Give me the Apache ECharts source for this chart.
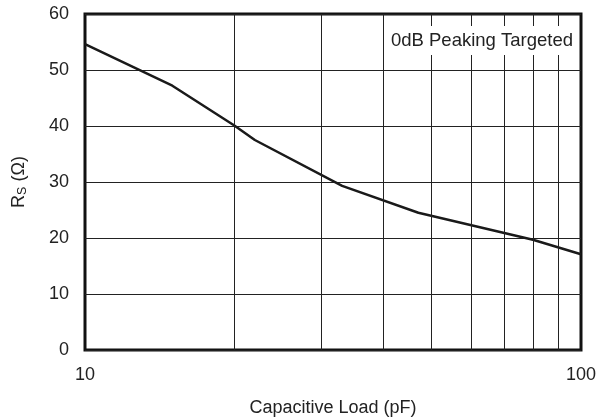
<!DOCTYPE html>
<html>
<head>
<meta charset="utf-8">
<script src="https://cdn.jsdelivr.net/npm/echarts@6/dist/echarts.min.js"></script>
<style>html,body{margin:0;padding:0;background:#fff}#c{width:597px;height:417px}</style>
</head>
<body>
<div id="c"></div>
<script>
// Data
const capLoad = [10, 15, 20, 22, 33, 47, 80, 100];          // pF
const rsValues = [54.6, 47.2, 40.1, 37.5, 29.3, 24.5, 19.7, 17.1]; // ohms
const minorGrid = [20, 30, 40, 50, 60, 70, 80, 90];
const yTicks = [0, 10, 20, 30, 40, 50, 60];
const annotation = '0dB Peaking Targeted';

const FONT = '"Liberation Sans", Arial, Helvetica, sans-serif';
const FS = 18;
const chart = echarts.init(document.getElementById('c'), null, {renderer: 'canvas'});
chart.setOption({
  animation: false,
  backgroundColor: '#fff',
  textStyle: {fontFamily: FONT},
  title: {
    text: annotation,
    right: 21,
    top: 26,
    padding: [5, 3, 5, 3],
    backgroundColor: '#fff',
    textStyle: {fontFamily: FONT, fontSize: 18.5, fontWeight: 'normal', color: '#222'}
  },
  grid: {
    left: 85, right: 16, top: 14, bottom: 67,
    outerBoundsMode: 'none',
    containLabel: false,
    show: true, borderColor: '#111', borderWidth: 3, backgroundColor: 'transparent'
  },
  xAxis: {
    type: 'log', logBase: 10, min: 10, max: 100,
    axisLine: {show: false}, axisTick: {show: false},
    splitLine: {show: false},
    axisLabel: {fontSize: FS, color: '#222', margin: 16, fontFamily: FONT},
    name: 'Capacitive Load (pF)', nameLocation: 'middle', nameGap: 49,
    nameTextStyle: {fontSize: FS, color: '#222', fontFamily: FONT}
  },
  yAxis: {
    type: 'value', min: yTicks[0], max: yTicks[yTicks.length - 1], interval: 10,
    axisLine: {show: false}, axisTick: {show: false},
    splitLine: {show: true, lineStyle: {color: '#222', width: 1}},
    axisLabel: {fontSize: FS, color: '#222', margin: 16, fontFamily: FONT},
    name: '{r|R}{s|S}{r| (Ω)}', nameLocation: 'middle', nameGap: 56, nameRotate: 90,
    nameTextStyle: {
      rich: {
        r: {fontSize: FS, color: '#222', fontFamily: FONT},
        s: {fontSize: 12.5, color: '#222', fontFamily: FONT, verticalAlign: 'bottom', padding: [7, 0, 0, 0]}
      }
    }
  },
  series: [{
    type: 'line',
    data: capLoad.map((x, i) => [x, rsValues[i]]),
    showSymbol: false,
    lineStyle: {color: '#1a1a1a', width: 2.5},
    z: 3,
    markLine: {
      silent: true,
      symbol: 'none',
      label: {show: false},
      lineStyle: {color: '#222', width: 1, type: 'solid'},
      data: minorGrid.map(v => ({xAxis: v}))
    }
  }]
});
</script>
</body>
</html>
